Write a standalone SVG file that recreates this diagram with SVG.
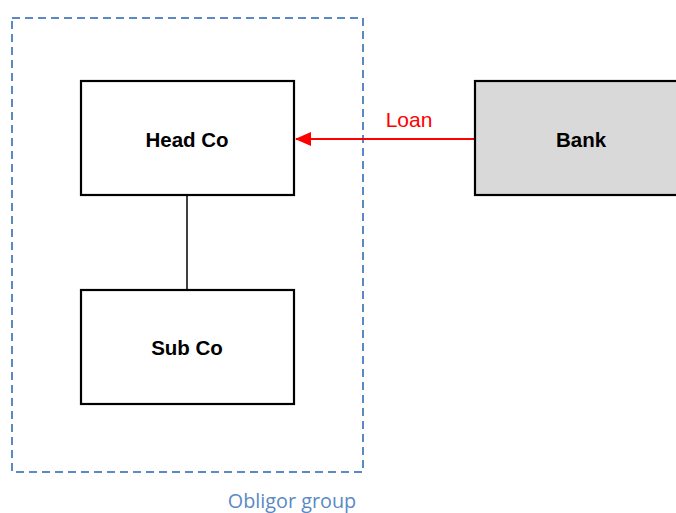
<svg xmlns="http://www.w3.org/2000/svg" width="676" height="513" viewBox="0 0 676 513">
<style>
.box{stroke:#000;stroke-width:2.2;fill:#fff}
.lbl{font-family:"Liberation Sans",Arial,sans-serif;font-weight:bold;font-size:20.5px;text-anchor:middle;fill:#000}
</style>
<defs>
<marker id="ah" markerWidth="16" markerHeight="14" refX="15" refY="7" orient="auto" markerUnits="userSpaceOnUse" viewBox="0 0 16 14">
<path d="M0,0 L16,7 L0,14 z" fill="#f00"/>
</marker>
</defs>
<rect width="676" height="513" fill="#fff"/>
<g id="obligor-group">
<rect x="12" y="18" width="351" height="454" fill="none" stroke="#5a89c5" stroke-width="2" stroke-dasharray="8,5"/>
<text x="292" y="508" font-family="'Open Sans','Liberation Sans',sans-serif" font-size="19.8" fill="#5a89c5" text-anchor="middle">Obligor group</text>
</g>
<g id="connectors">
<line x1="187" y1="195" x2="187" y2="290" stroke="#000" stroke-width="1.5"/>
<line x1="475" y1="139" x2="296" y2="139" stroke="#f00" stroke-width="2" marker-end="url(#ah)"/>
<text x="409" y="127" font-family="'Liberation Sans',Arial,sans-serif" font-size="21" fill="#f00" text-anchor="middle">Loan</text>
</g>
<g id="head-co">
<rect class="box" x="81" y="81" width="213" height="114"/>
<text class="lbl" x="187" y="147">Head Co</text>
</g>
<g id="sub-co">
<rect class="box" x="81" y="290" width="213" height="114"/>
<text class="lbl" x="187" y="355">Sub Co</text>
</g>
<g id="bank">
<rect class="box" x="475" y="81" width="215" height="114" style="fill:#d9d9d9"/>
<text class="lbl" x="581" y="147">Bank</text>
</g>
</svg>
